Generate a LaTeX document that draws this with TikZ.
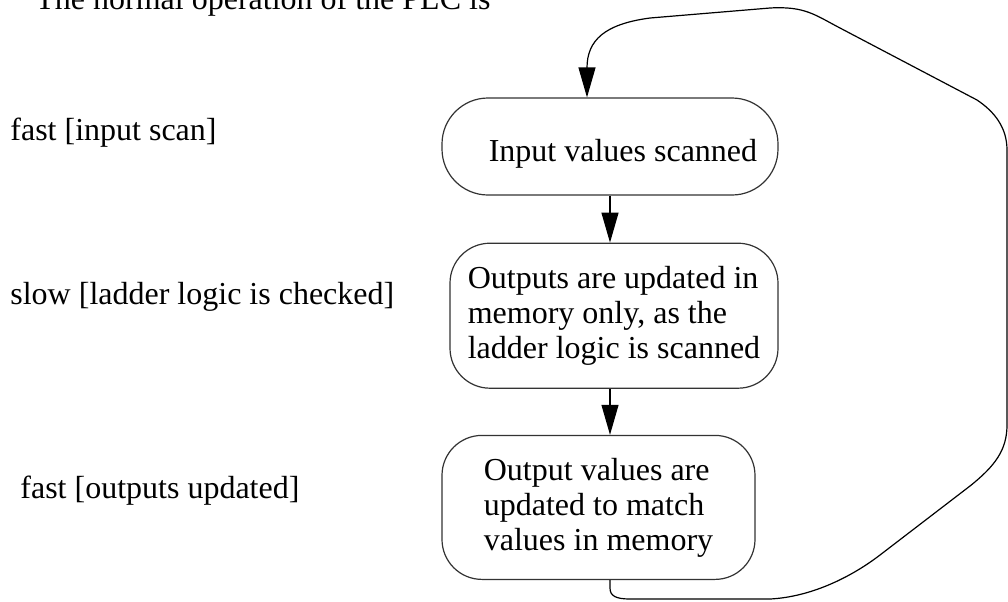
\documentclass[tikz,border=0pt]{standalone}
\usepackage{fontspec}
\setmainfont{Liberation Serif}
\usetikzlibrary{arrows.meta,positioning}

\begin{document}
\begin{tikzpicture}[
    x=0.5pt, y=-0.5pt,
    node distance=23.5pt,
    stage/.style={draw=black!80, line width=0.6pt, rounded corners=20pt, align=left, inner sep=0pt, font=\fontsize{16pt}{17.5pt}\selectfont},
    note/.style={anchor=base west, inner sep=0pt, font=\fontsize{16pt}{17.5pt}\selectfont},
    flow/.style={line width=0.6pt, -{Triangle[length=15pt,width=8.5pt]}},
]
\useasboundingbox (0,0) rectangle (1008,601);

\node[note] (title) at (35,9) {The normal operation of the PLC is};

\node[stage, rounded corners=23pt, minimum width=168pt, minimum height=48.5pt, text height=18pt] (scan) at (610,146.5) {\hspace*{13pt}Input values scanned};
\node[stage, minimum width=164pt, minimum height=72.5pt, below=of scan, xshift=2pt] (logic) {Outputs are updated in\\memory only, as the\\ladder logic is scanned};
\node[stage, minimum width=156.5pt, minimum height=72pt, below=23pt of logic, xshift=-7.75pt] (update) {Output values are\\updated to match\\values in memory};

\node[note] (scanlbl)  at (10,140) {fast [input scan]};
\node[note] (logiclbl) at (10,304) {slow [ladder logic is checked]};
\node[note] (updlbl)   at (20,498) {fast [outputs updated]};

\draw[flow] (scan.south) -- (scan.south |- logic.north);
\draw[flow] (scan.south |- logic.south) -- (scan.south |- update.north);

% loop back from the output update to the input scan
\coordinate (loopin) at ([xshift=-11.5pt]scan.north);
\draw[flow] (scan.south |- update.south) -- (610,588) .. controls (610,596) and (616,599) .. (630,599)
    -- (770,599) .. controls (810,597) and (850,578) .. (880,555) -- (970,486)
    .. controls (995,466) and (1007,450) .. (1007,425) -- (1007,150)
    .. controls (1007,128) and (995,112) .. (977,100) -- (840,28)
    .. controls (815,15) and (805,6) .. (770,8) -- (650,18)
    .. controls (605,24) and (587,40) .. (587,68) -- (loopin);
\end{tikzpicture}
\end{document}
